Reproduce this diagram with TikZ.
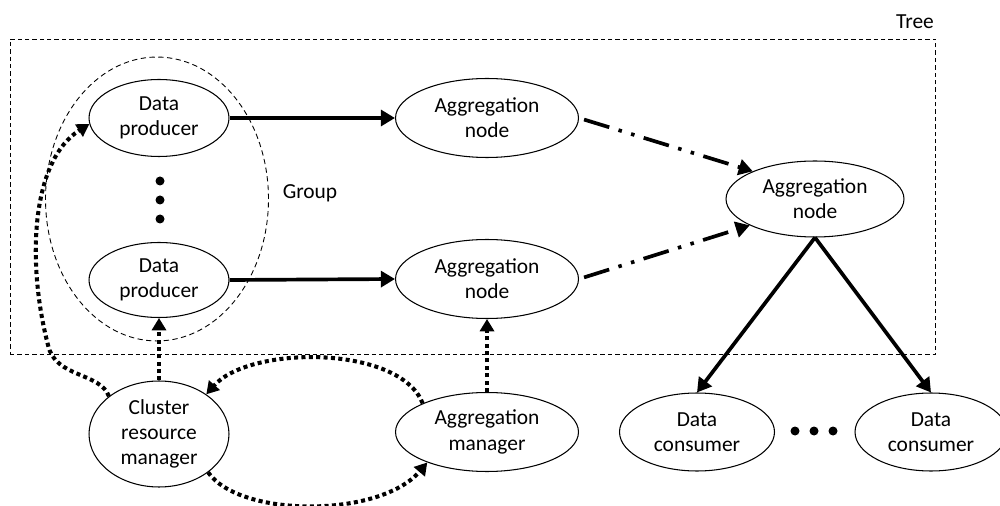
\documentclass[tikz,border=0pt]{standalone}
\usepackage{fontspec}
\setmainfont{Carlito}
\usetikzlibrary{shapes.geometric,arrows.meta}
\begin{document}
\begin{tikzpicture}[x=0.02cm,y=-0.02cm,
  every node/.style={font=\fontsize{12.2}{14.4}\selectfont},
  box/.style={ellipse,draw,line width=0.6pt,align=center,inner sep=0pt},
  solidarr/.style={line width=2.1pt,-{Triangle[length=8pt,width=9pt]}},
  dotarr/.style={line width=2.3pt,dash pattern=on 2.3pt off 1.9pt,-{Triangle[length=7pt,width=8pt]}},
  ddarr/.style={line width=2.1pt,dash pattern=on 15pt off 5.5pt on 2pt off 5.5pt on 2pt off 5.5pt,-{Triangle[length=8pt,width=9pt]}},
  dotfill/.style={circle,fill,inner sep=0pt,minimum size=0.18cm}
]
\useasboundingbox (0,0) rectangle (1000,506);

% frames
\node[draw,line width=0.5pt,dash pattern=on 2.5pt off 1.7pt,minimum width=18.52cm,minimum height=6.3cm,inner sep=0pt] (tree) at (473,196.5) {};
\node (treelbl) at (915,22) {Tree};
\node[ellipse,draw,line width=0.5pt,dash pattern=on 3pt off 2pt,minimum width=4.46cm,minimum height=5.68cm,inner sep=0pt] (group) at (157,199) {};
\node (grouplbl) at (310,193) {Group};

% nodes
\node[box,minimum width=2.8cm,minimum height=1.54cm] (dp1) at (159,118) {Data\\producer};
\node[box,minimum width=2.8cm,minimum height=1.5cm] (dp2) at (159,280) {Data\\producer};
\node[box,minimum width=3.66cm,minimum height=1.58cm] (an1) at (487,118) {Aggregation\\node};
\node[box,minimum width=3.66cm,minimum height=1.58cm] (an2) at (487,279) {Aggregation\\node};
\node[box,minimum width=3.56cm,minimum height=1.52cm] (ar) at (815,199) {Aggregation\\node};
\node[box,minimum width=3.1cm,minimum height=1.56cm] (dc1) at (697,432) {Data\\consumer};
\node[box,minimum width=3.04cm,minimum height=1.56cm] (dc2) at (931,432) {Data\\consumer};
\node[box,minimum width=2.8cm,minimum height=2.12cm] (crm) at (159,434) {Cluster\\resource\\manager};
\node[box,minimum width=3.66cm,minimum height=1.58cm] (am) at (487,432) {Aggregation\\manager};

% ellipsis dots
\node[dotfill] (v1) at (160,181) {};
\node[dotfill] (v2) at (160,200) {};
\node[dotfill] (v3) at (160,219) {};
\node[dotfill] (h1) at (795,431) {};
\node[dotfill] (h2) at (814,431) {};
\node[dotfill] (h3) at (833,431) {};

% connectors
\draw[solidarr] (dp1.east) -- (an1.west);
\draw[solidarr] (dp2.east) -- (an2.west);
\draw[ddarr,shorten <=3pt] (an1.east) -- (ar.156);
\draw[ddarr,shorten <=3pt] (an2.east) -- (ar.202);
\draw[solidarr] (ar.south) -- (dc1.north);
\draw[solidarr] (ar.south) -- (dc2.north);

\draw[dotarr] (crm.north) -- (dp2.south);
\draw[dotarr] (am.north) -- (an2.south);
\draw[dotarr] (crm.143) .. controls (100,372) and (55,378) .. (48,345)
   .. controls (26,260) and (32,160) .. (dp1.185);
\draw[dotarr] (am.156) .. controls (400,345) and (250,345) .. (crm.40);
\draw[dotarr] (crm.322) .. controls (240,518) and (380,518) .. (am.207);
\end{tikzpicture}
\end{document}
